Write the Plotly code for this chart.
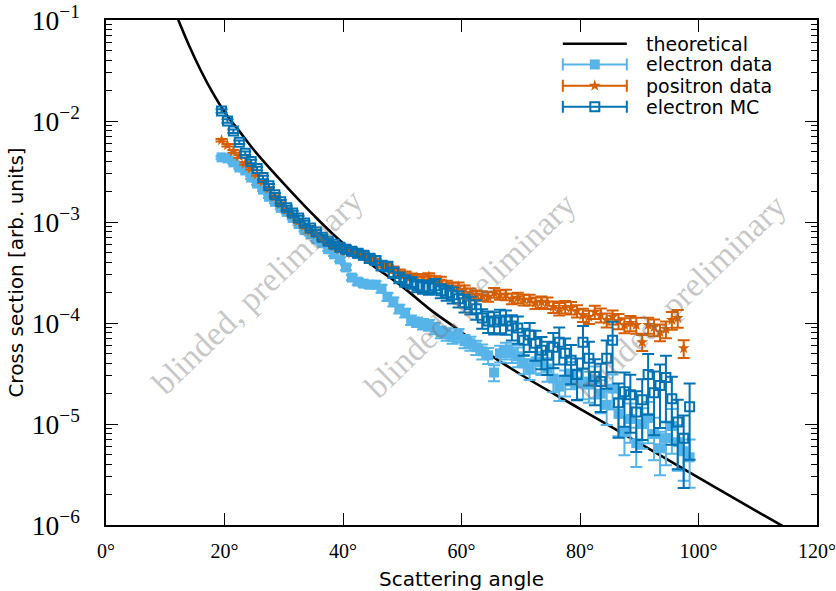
import plotly.graph_objects as go

# ---------------- data ----------------
angles = [19.5, 20.5, 21.5, 22.5, 23.5, 24.5, 25.5, 26.5, 27.5, 28.5,
          29.5, 30.5, 31.5, 32.5, 33.5, 34.5, 35.5, 36.5, 37.5, 38.5,
          39.5, 40.5, 41.5, 42.5, 43.5, 44.5, 45.5, 46.5, 47.5, 48.5,
          49.5, 50.5, 51.5, 52.5, 53.5, 54.5, 55.5, 56.5, 57.5, 58.5,
          59.5, 60.5, 61.5, 62.5, 63.5, 64.5, 65.5, 66.5, 67.5, 68.5,
          69.5, 70.5, 71.5, 72.5, 73.5, 74.5, 75.5, 76.5, 77.5, 78.5,
          79.5, 80.5, 81.5, 82.5, 83.5, 84.5, 85.5, 86.5, 87.5, 88.5,
          89.5, 90.5, 91.5, 92.5, 93.5, 94.5, 95.5, 96.5, 97.5, 98.5]

# log10 of cross section, electron data (light blue)
edata_log = [-2.36, -2.37, -2.41, -2.46, -2.49, -2.56, -2.62, -2.68, -2.75, -2.80,
             -2.86, -2.90, -2.96, -3.02, -3.08, -3.12, -3.17, -3.21, -3.27, -3.32,
             -3.37, -3.45, -3.55, -3.59, -3.61, -3.62, -3.62, -3.66, -3.74, -3.79,
             -3.86, -3.90, -3.97, -3.99, -4.01, -4.02, -4.05, -4.09, -4.11, -4.14,
             -4.12, -4.18, -4.20, -4.24, -4.28, -4.32, -4.49, -4.30, -4.27, -4.30,
             -4.33, -4.40, -4.45, -4.38, -4.39, -4.45, -4.55, -4.63, -4.58, -4.50,
             -4.60, -4.58, -4.61, -4.56, -4.70, -4.81, -4.65, -4.90, -5.08, -4.95,
             -5.19, -5.00, -4.94, -5.10, -5.24, -5.14, -5.02, -5.18, -5.27, -5.33]
edata_relerr = [0.03, 0.03, 0.03, 0.03, 0.03, 0.03, 0.03, 0.03, 0.03, 0.03,
                0.03, 0.03, 0.03, 0.03, 0.03, 0.04, 0.04, 0.04, 0.04, 0.04,
                0.05, 0.06, 0.06, 0.07, 0.07, 0.08, 0.08, 0.09, 0.09, 0.10,
                0.10, 0.10, 0.11, 0.11, 0.12, 0.12, 0.13, 0.13, 0.14, 0.14,
                0.15, 0.15, 0.16, 0.16, 0.17, 0.18, 0.18, 0.19, 0.19, 0.20,
                0.22, 0.22, 0.23, 0.24, 0.25, 0.26, 0.27, 0.28, 0.29, 0.30,
                0.32, 0.33, 0.34, 0.35, 0.36, 0.37, 0.38, 0.40, 0.41, 0.42,
                0.42, 0.43, 0.44, 0.45, 0.46, 0.46, 0.47, 0.48, 0.49, 0.50]

# positron data (orange), one bin fewer at the end
pdata_log = [-2.19, -2.24, -2.30, -2.35, -2.42, -2.47, -2.53, -2.60, -2.67, -2.75,
             -2.82, -2.88, -2.93, -2.99, -3.04, -3.09, -3.12, -3.16, -3.20, -3.24,
             -3.27, -3.29, -3.31, -3.32, -3.33, -3.36, -3.39, -3.42, -3.44, -3.47,
             -3.50, -3.52, -3.54, -3.55, -3.55, -3.54, -3.57, -3.58, -3.62, -3.64,
             -3.64, -3.67, -3.70, -3.72, -3.73, -3.74, -3.70, -3.72, -3.72, -3.76,
             -3.75, -3.77, -3.77, -3.80, -3.79, -3.80, -3.84, -3.86, -3.84, -3.85,
             -3.88, -3.92, -3.94, -3.89, -3.92, -3.97, -3.94, -3.98, -4.02, -4.00,
             -4.02, -4.19, -4.02, -4.04, -4.09, -4.06, -3.97, -3.95, -4.25]
pdata_relerr = [0.03, 0.03, 0.03, 0.03, 0.03, 0.03, 0.03, 0.03, 0.03, 0.03,
                0.03, 0.03, 0.03, 0.03, 0.03, 0.03, 0.04, 0.04, 0.04, 0.04,
                0.04, 0.05, 0.05, 0.05, 0.05, 0.06, 0.06, 0.06, 0.06, 0.07,
                0.07, 0.07, 0.07, 0.08, 0.08, 0.08, 0.08, 0.09, 0.09, 0.09,
                0.10, 0.10, 0.10, 0.10, 0.11, 0.11, 0.11, 0.11, 0.12, 0.12,
                0.12, 0.12, 0.12, 0.13, 0.13, 0.13, 0.13, 0.14, 0.14, 0.14,
                0.14, 0.15, 0.15, 0.15, 0.16, 0.16, 0.16, 0.17, 0.17, 0.17,
                0.18, 0.18, 0.18, 0.19, 0.19, 0.19, 0.20, 0.20, 0.20]

# electron MC (dark blue)
emc_log = [-1.90, -2.00, -2.10, -2.21, -2.32, -2.40, -2.47, -2.56, -2.64, -2.73,
           -2.80, -2.86, -2.91, -2.96, -3.01, -3.06, -3.10, -3.15, -3.19, -3.22,
           -3.25, -3.27, -3.29, -3.31, -3.33, -3.36, -3.38, -3.43, -3.44, -3.50,
           -3.55, -3.58, -3.60, -3.63, -3.64, -3.65, -3.63, -3.68, -3.70, -3.72,
           -3.76, -3.80, -3.82, -3.86, -3.95, -3.98, -3.99, -3.97, -3.98, -4.03,
           -4.05, -4.17, -4.12, -4.20, -4.27, -4.32, -4.24, -4.19, -4.30, -4.37,
           -4.51, -4.19, -4.35, -4.53, -4.58, -4.35, -4.17, -4.79, -4.68, -4.71,
           -4.88, -4.76, -4.51, -4.69, -4.62, -4.54, -4.75, -4.98, -5.14, -4.83]
emc_relerr = [0.04, 0.04, 0.04, 0.04, 0.04, 0.04, 0.04, 0.04, 0.04, 0.04,
              0.04, 0.05, 0.05, 0.05, 0.05, 0.05, 0.05, 0.05, 0.05, 0.05,
              0.05, 0.08, 0.08, 0.09, 0.09, 0.10, 0.10, 0.11, 0.11, 0.12,
              0.12, 0.13, 0.13, 0.14, 0.15, 0.15, 0.16, 0.16, 0.17, 0.18,
              0.18, 0.20, 0.20, 0.22, 0.22, 0.24, 0.25, 0.26, 0.27, 0.28,
              0.30, 0.30, 0.32, 0.33, 0.35, 0.36, 0.38, 0.40, 0.40, 0.42,
              0.44, 0.45, 0.46, 0.48, 0.50, 0.50, 0.52, 0.55, 0.55, 0.58,
              0.60, 0.60, 0.60, 0.62, 0.62, 0.64, 0.65, 0.66, 0.68, 0.70]

# theoretical curve, points
theory_angle = [12.0, 14, 16, 18, 20, 22.5, 25, 30, 35, 40, 45, 50, 55, 60,
                65, 70, 80, 90, 100, 110, 116]
theory_log = [-0.97, -1.25, -1.50, -1.72, -1.91, -2.10, -2.29, -2.62, -2.93,
              -3.21, -3.43, -3.64, -3.88, -4.09, -4.32, -4.51, -4.85, -5.19,
              -5.53, -5.87, -6.07]

series_names = ["theoretical", "electron data", "positron data", "electron MC"]
x_ticks = [0, 20, 40, 60, 80, 100, 120]
x_tick_text = ["0°", "20°", "40°", "60°", "80°", "100°", "120°"]
watermark = "blinded, preliminary"

# ---------------- styling ----------------
C_LIGHT = "#56B4E9"
C_ORANGE = "#D55E00"
C_DARK = "#0072B2"
SANS = "DejaVu Sans"
SERIF = "Liberation Serif"


def lin(v):
    return [10 ** a for a in v]


def err(v, r):
    return [10 ** a * b for a, b in zip(v, r)]


MK_LIGHT = dict(symbol="square", size=10, color=C_LIGHT)
MK_ORANGE = dict(symbol="star", size=9, color=C_ORANGE)
MK_DARK = dict(symbol="square-open", size=9, color=C_DARK,
               line=dict(width=2, color=C_DARK))

fig = go.Figure()

fig.add_trace(go.Scatter(
    x=theory_angle, y=lin(theory_log), mode="lines",
    line=dict(color="black", width=2.6, shape="spline"),
    showlegend=False, hoverinfo="skip"))

fig.add_trace(go.Scatter(
    x=angles, y=lin(edata_log), mode="markers", marker=MK_LIGHT,
    error_y=dict(type="data", array=err(edata_log, edata_relerr),
                 color=C_LIGHT, thickness=2, width=6),
    showlegend=False))

fig.add_trace(go.Scatter(
    x=angles[:len(pdata_log)], y=lin(pdata_log), mode="markers",
    marker=MK_ORANGE,
    error_y=dict(type="data", array=err(pdata_log, pdata_relerr),
                 color=C_ORANGE, thickness=2, width=6),
    showlegend=False))

fig.add_trace(go.Scatter(
    x=angles, y=lin(emc_log), mode="markers", marker=MK_DARK,
    error_y=dict(type="data", array=err(emc_log, emc_relerr),
                 color=C_DARK, thickness=2, width=6),
    showlegend=False))

# ---------------- hand-drawn legend (overlay axes 0..1) ----------------
LEG_CX = 0.6875
LEG_HALF = 0.045
LEG_TEXT_X = 0.757
LEG_ROWS = [0.953, 0.912, 0.870, 0.828]

fig.add_trace(go.Scatter(
    x=[LEG_CX - LEG_HALF, LEG_CX + LEG_HALF], y=[LEG_ROWS[0]] * 2,
    xaxis="x2", yaxis="y2", mode="lines",
    line=dict(color="black", width=2.6), showlegend=False, hoverinfo="skip"))
for row, mk, col in zip(LEG_ROWS[1:], [MK_LIGHT, MK_ORANGE, MK_DARK],
                        [C_LIGHT, C_ORANGE, C_DARK]):
    fig.add_trace(go.Scatter(
        x=[LEG_CX], y=[row], xaxis="x2", yaxis="y2", mode="markers",
        marker=mk,
        error_x=dict(type="constant", value=LEG_HALF, color=col,
                     thickness=2, width=6),
        showlegend=False, hoverinfo="skip"))

annotations = []
for row, name in zip(LEG_ROWS, series_names):
    annotations.append(dict(
        x=LEG_TEXT_X, y=row, xref="paper", yref="paper", text=name,
        showarrow=False, xanchor="left", yanchor="middle",
        font=dict(family=SANS, size=19, color="black")))

for wx, wy in [(0.2132, 0.4614), (0.5116, 0.4554), (0.8086, 0.4515)]:
    annotations.append(dict(
        x=wx, y=wy, xref="paper", yref="paper", text=watermark,
        showarrow=False, textangle=-44, xanchor="center", yanchor="middle",
        font=dict(family=SERIF, size=34, color="rgba(120,120,120,0.42)")))

fig.update_layout(
    width=836, height=591,
    margin=dict(l=106, r=19, t=20, b=66, autoexpand=False),
    paper_bgcolor="white", plot_bgcolor="white",
    showlegend=False,
    annotations=annotations,
    xaxis=dict(
        range=[0, 120], tickvals=x_ticks, ticktext=x_tick_text,
        automargin=False, ticklabeloverflow="allow",
        ticks="inside", ticklen=12, tickwidth=1, tickcolor="black",
        showline=True, linecolor="black", linewidth=1.5, mirror="ticks",
        showgrid=False, zeroline=False,
        tickfont=dict(family=SERIF, size=20, color="black"),
        ticklabelstandoff=7,
        title=dict(text="Scattering angle", standoff=12,
                   font=dict(family=SANS, size=20, color="black"))),
    yaxis=dict(
        type="log", range=[-6, -1], dtick=1, exponentformat="power",
        automargin=False, ticklabeloverflow="allow",
        ticks="inside", ticklen=12, tickwidth=1, tickcolor="black",
        minor=dict(ticks="inside", ticklen=6, tickwidth=1,
                   tickcolor="black", dtick="D1", showgrid=False),
        showline=True, linecolor="black", linewidth=1.5, mirror="ticks",
        showgrid=False, zeroline=False,
        tickfont=dict(family=SERIF, size=22, color="black"),
        ticklabelstandoff=20,
        title=dict(text="Cross section [arb. units]", standoff=3,
                   font=dict(family=SANS, size=20, color="black"))),
    xaxis2=dict(overlaying="x", range=[0, 1], visible=False),
    yaxis2=dict(overlaying="y", range=[0, 1], visible=False),
)

fig.write_html("out.html")
